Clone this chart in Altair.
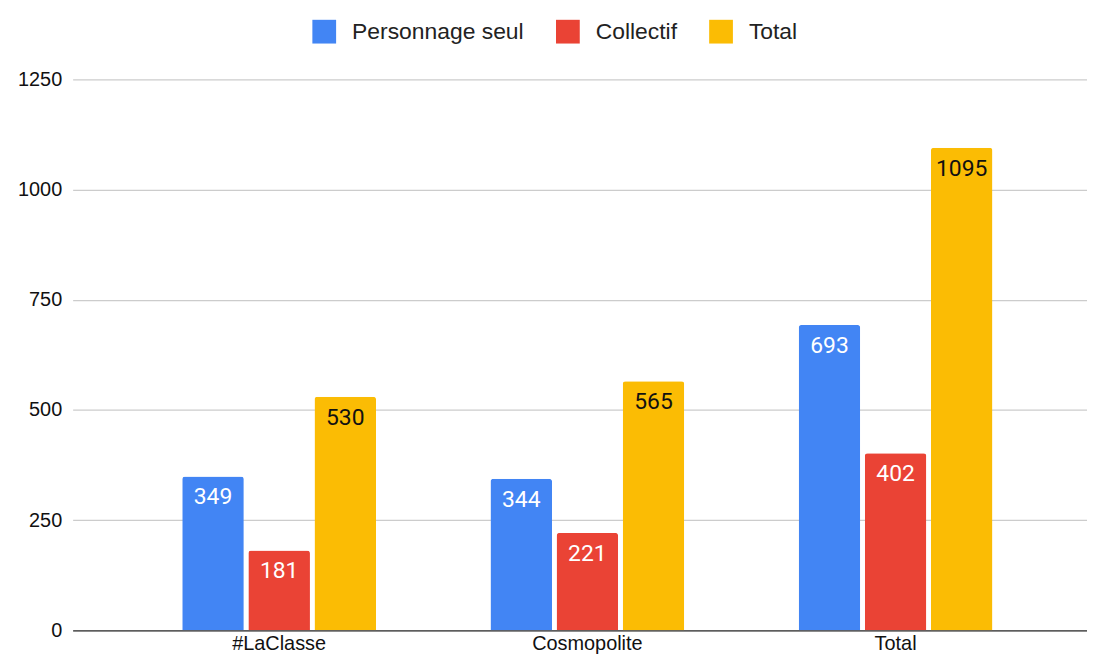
import altair as alt
import pandas as pd

categories = ["#LaClasse", "Cosmopolite", "Total"]
series = ["Personnage seul", "Collectif", "Total"]
personnage_seul = [349, 344, 693]
collectif = [181, 221, 402]
total = [530, 565, 1095]
colors = ["#4285F4", "#EA4335", "#FBBC04"]
y_ticks = [0, 250, 500, 750, 1000, 1250]

rows = []
for i, cat in enumerate(categories):
    for s, vals in zip(series, [personnage_seul, collectif, total]):
        rows.append({"categorie": cat, "serie": s, "valeur": vals[i]})
df = pd.DataFrame(rows)

FONT = "Liberation Sans"

x_enc = alt.X(
    "categorie:N",
    sort=categories,
    scale=alt.Scale(paddingInner=0.371, paddingOuter=0.331, align=0.537),
    axis=alt.Axis(
        title=None, labelAngle=0, ticks=False, domain=True, domainColor="#333333",
        domainWidth=1.2, labelFont=FONT, labelFontSize=20, labelColor="#111111",
        labelPadding=3, grid=False,
    ),
)
xo_enc = alt.XOffset("serie:N", sort=series, scale=alt.Scale(paddingInner=0.068, paddingOuter=0))
y_enc = alt.Y(
    "valeur:Q",
    scale=alt.Scale(domain=[0, 1250], nice=False),
    axis=alt.Axis(
        title=None, values=y_ticks, format="d", domain=False, ticks=False, grid=True,
        gridColor="#CCCCCC", gridWidth=1.2, labelFont=FONT, labelFontSize=20,
        labelColor="#111111", labelPadding=11,
    ),
)

bars = alt.Chart(df).mark_bar(cornerRadiusTopLeft=3, cornerRadiusTopRight=3).encode(
    x=x_enc,
    xOffset=xo_enc,
    y=y_enc,
    color=alt.Color(
        "serie:N",
        sort=series,
        scale=alt.Scale(domain=series, range=colors),
        legend=alt.Legend(
            title=None, orient="none", direction="horizontal", legendX=241, legendY=-60,
            symbolType="square", symbolSize=570, symbolStrokeWidth=0, labelFont=FONT,
            labelFontSize=23, labelColor="#222222", labelOffset=16, columnPadding=32,
            labelLimit=0,
        ),
    ),
)

labels = alt.Chart(df).mark_text(baseline="middle", dy=21, font="Roboto", fontSize=23).encode(
    x=alt.X("categorie:N", sort=categories),
    xOffset=alt.XOffset("serie:N", sort=series),
    y=alt.Y("valeur:Q"),
    text=alt.Text("valeur:Q"),
    color=alt.condition(alt.datum.serie == "Total", alt.value("#111111"), alt.value("#FFFFFF")),
)

chart = (
    alt.layer(bars, labels)
    .properties(
        width=1020,
        height=554,
        padding={"left": 65, "top": 70, "right": 0, "bottom": 25},
        autosize=alt.AutoSizeParams(type="none"),
    )
    .configure_view(stroke=None)
)

chart.save("out.html", embed_options={"renderer": "svg", "actions": False})
